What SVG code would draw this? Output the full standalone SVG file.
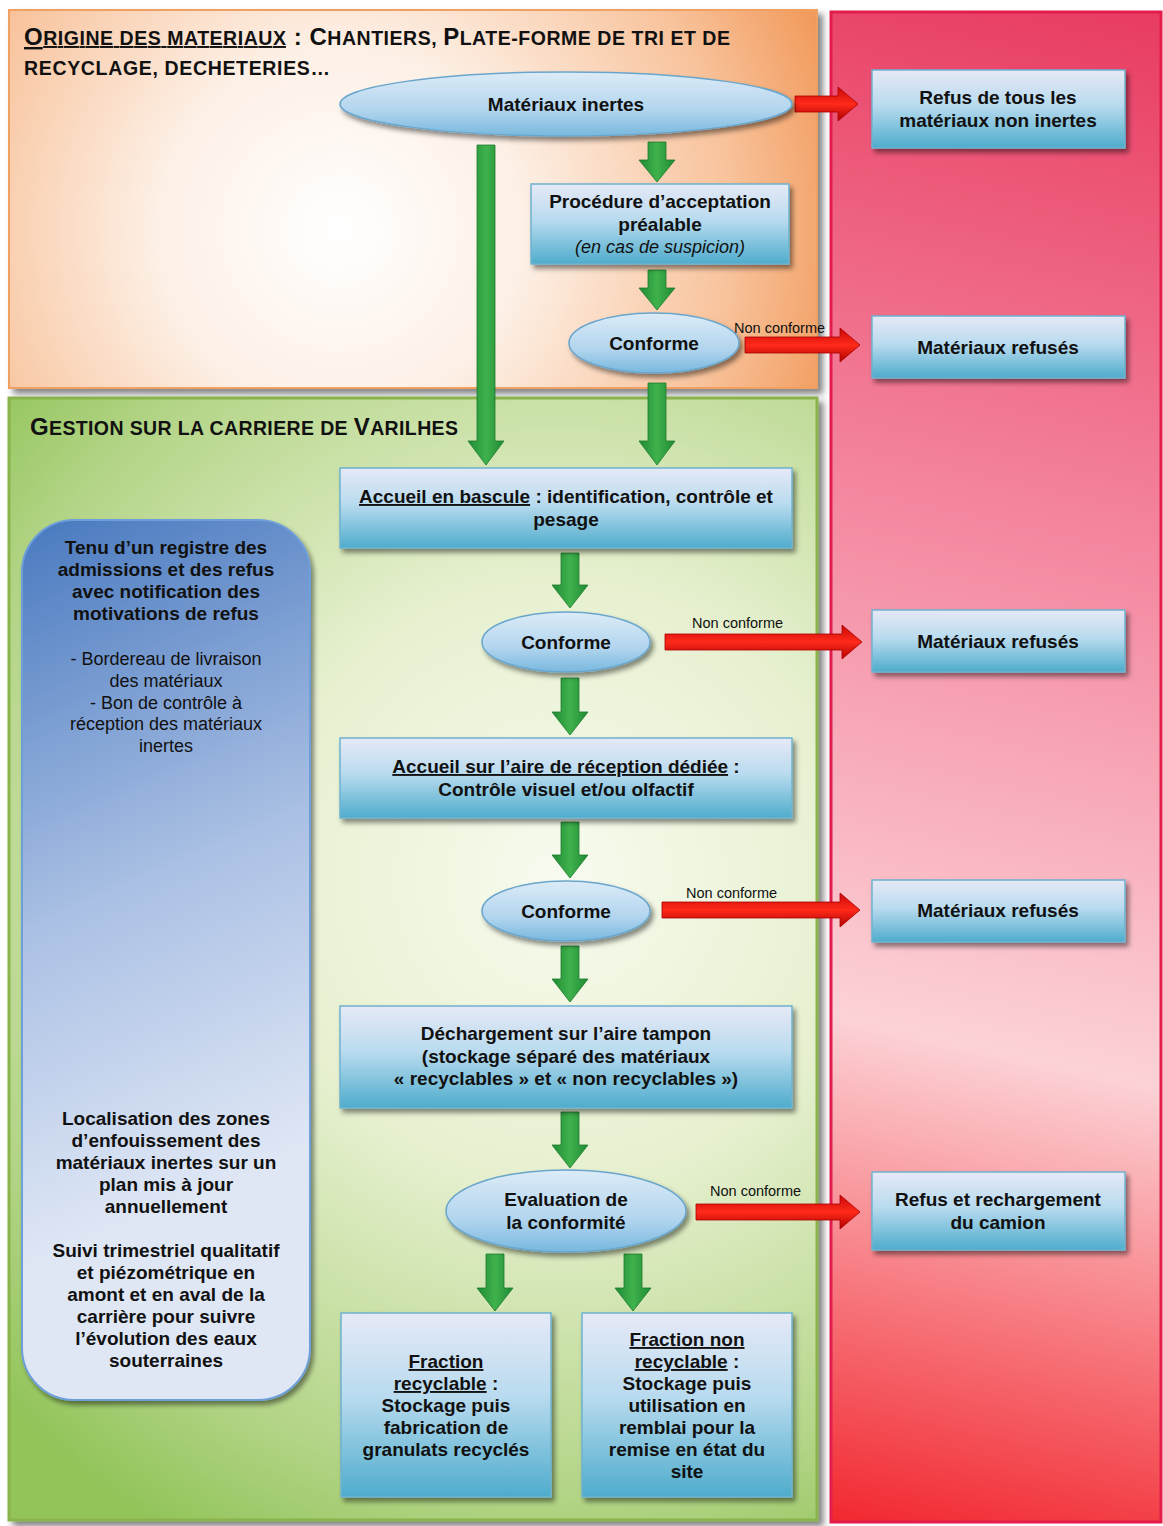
<svg xmlns="http://www.w3.org/2000/svg" width="1163" height="1526" viewBox="0 0 1163 1526">
<style>
text{font-family:"Liberation Sans",Arial,sans-serif;fill:#111;}
.b{font-weight:bold;font-size:19px;text-anchor:middle;}
.r{font-size:18px;text-anchor:middle;}
.nc{font-size:14.5px;}
.t{font-weight:bold;}
.big{font-size:24px;}
.sm{font-size:19.5px;}
.u{text-decoration:underline;}
.box{fill:url(#gBox);stroke:#6fb3cf;stroke-width:1.5;filter:url(#sh);}
.ell{fill:url(#gEll);stroke:#6aa6cc;stroke-width:1.5;filter:url(#sh);}
.ga{fill:url(#gGreen);stroke:#1c7a2c;stroke-width:0.8;}
.ra{fill:url(#gRed);stroke:#a00;stroke-width:0.8;}
</style>
<defs>
<filter id="sh" x="-10%" y="-10%" width="125%" height="130%"><feDropShadow dx="3" dy="4" stdDeviation="2.5" flood-color="#000" flood-opacity="0.45"/></filter>
<filter id="psh" x="-5%" y="-5%" width="110%" height="110%"><feDropShadow dx="5" dy="5" stdDeviation="3" flood-color="#333" flood-opacity="0.6"/></filter>
<linearGradient id="gBox" x1="0" y1="0" x2="0" y2="1"><stop offset="0" stop-color="#e6e9f6"/><stop offset="0.45" stop-color="#b9dbef"/><stop offset="1" stop-color="#4eaccc"/></linearGradient>
<linearGradient id="gEll" x1="0" y1="0" x2="0" y2="1"><stop offset="0" stop-color="#dcebf7"/><stop offset="0.6" stop-color="#b2d5ee"/><stop offset="1" stop-color="#78b8de"/></linearGradient>
<linearGradient id="gGreen" x1="0" y1="0" x2="1" y2="0"><stop offset="0" stop-color="#1f8a34"/><stop offset="0.5" stop-color="#3fb24c"/><stop offset="1" stop-color="#1f8a34"/></linearGradient>
<linearGradient id="gRed" x1="0" y1="0" x2="0" y2="1"><stop offset="0" stop-color="#c80808"/><stop offset="0.5" stop-color="#ff2a1a"/><stop offset="1" stop-color="#b00000"/></linearGradient>
<radialGradient id="gOrange" gradientUnits="userSpaceOnUse" cx="340" cy="230" r="520"><stop offset="0" stop-color="#ffffff"/><stop offset="0.35" stop-color="#fdf0e6"/><stop offset="0.75" stop-color="#f8c39c"/><stop offset="1" stop-color="#f29a5c"/></radialGradient>
<radialGradient id="gGreenP" gradientUnits="userSpaceOnUse" cx="560" cy="880" r="760"><stop offset="0" stop-color="#f8fbef"/><stop offset="0.4" stop-color="#e6f0cf"/><stop offset="0.8" stop-color="#b4d588"/><stop offset="1" stop-color="#92c45a"/></radialGradient>
<linearGradient id="gPink" gradientUnits="userSpaceOnUse" x1="1163" y1="0" x2="830" y2="1526"><stop offset="0" stop-color="#e83a60"/><stop offset="0.35" stop-color="#f4879f"/><stop offset="0.68" stop-color="#fcd2d6"/><stop offset="1" stop-color="#f2262e"/></linearGradient>
<linearGradient id="gBlue" gradientUnits="userSpaceOnUse" x1="22" y1="520" x2="300" y2="1150"><stop offset="0" stop-color="#4879bf"/><stop offset="0.55" stop-color="#aac0e4"/><stop offset="1" stop-color="#dfe7f5"/></linearGradient>
</defs>

<g id="panel-red"><rect x="831" y="12" width="330" height="1510" fill="url(#gPink)" stroke="#e31c4c" stroke-width="3"/></g>
<g id="panel-orange"><rect x="9" y="10" width="808" height="378" fill="url(#gOrange)" stroke="#f0a060" stroke-width="2" filter="url(#psh)"/>
<text x="24" y="45" class="t" textLength="706" lengthAdjust="spacing"><tspan class="big u">O</tspan><tspan class="sm u">RIGINE DES MATERIAUX</tspan><tspan class="big"> : C</tspan><tspan class="sm">HANTIERS, </tspan><tspan class="big">P</tspan><tspan class="sm">LATE-FORME DE TRI ET DE</tspan></text>
<text x="24" y="75" class="t sm" textLength="306" lengthAdjust="spacing">RECYCLAGE, DECHETERIES…</text>
</g>
<g id="panel-green"><rect x="9" y="398" width="808" height="1122" fill="url(#gGreenP)" stroke="#8ab34c" stroke-width="3" filter="url(#psh)"/>
<text x="30" y="435" class="t" textLength="428" lengthAdjust="spacing"><tspan class="big">G</tspan><tspan class="sm">ESTION SUR LA CARRIERE DE </tspan><tspan class="big">V</tspan><tspan class="sm">ARILHES</tspan></text>
</g>

<g id="note-left">
<rect x="22" y="520" width="288" height="880" rx="52" fill="url(#gBlue)" stroke="#6e9fd8" stroke-width="2" filter="url(#sh)"/>
<text class="b"><tspan x="166" y="554">Tenu d’un registre des</tspan><tspan x="166" y="576">admissions et des refus</tspan><tspan x="166" y="598">avec notification des</tspan><tspan x="166" y="620">motivations de refus</tspan></text>
<text class="r"><tspan x="166" y="665">- Bordereau de livraison</tspan><tspan x="166" y="687">des matériaux</tspan><tspan x="166" y="709">- Bon de contrôle à</tspan><tspan x="166" y="730">réception des matériaux</tspan><tspan x="166" y="752">inertes</tspan></text>
<text class="b"><tspan x="166" y="1125">Localisation des zones</tspan><tspan x="166" y="1147">d’enfouissement des</tspan><tspan x="166" y="1169">matériaux inertes sur un</tspan><tspan x="166" y="1191">plan mis à jour</tspan><tspan x="166" y="1213">annuellement</tspan></text>
<text class="b"><tspan x="166" y="1257">Suivi trimestriel qualitatif</tspan><tspan x="166" y="1279">et piézométrique en</tspan><tspan x="166" y="1301">amont et en aval de la</tspan><tspan x="166" y="1323">carrière pour suivre</tspan><tspan x="166" y="1345">l’évolution des eaux</tspan><tspan x="166" y="1367">souterraines</tspan></text>
</g>

<g id="connectors">
<path class="ga" d="M477,145 H495 V441 H504 L486,465 L468,441 H477 Z"/>
<path class="ga" d="M648,142 H666 V160 H675 L657,182 L639,160 H648 Z"/>
<path class="ga" d="M648,270 H666 V288 H675 L657,310 L639,288 H648 Z"/>
<path class="ga" d="M648,383 H666 V441 H675 L657,465 L639,441 H648 Z"/>
<path class="ga" d="M561,553 H579 V585 H588 L570,608 L552,585 H561 Z"/>
<path class="ga" d="M561,678 H579 V712 H588 L570,735 L552,712 H561 Z"/>
<path class="ga" d="M561,822 H579 V855 H588 L570,878 L552,855 H561 Z"/>
<path class="ga" d="M561,946 H579 V979 H588 L570,1002 L552,979 H561 Z"/>
<path class="ga" d="M561,1112 H579 V1145 H588 L570,1168 L552,1145 H561 Z"/>
<path class="ga" d="M486,1254 H504 V1288 H513 L495,1311 L477,1288 H486 Z"/>
<path class="ga" d="M624,1254 H642 V1288 H651 L633,1311 L615,1288 H624 Z"/>
<path class="ra" d="M795,96 V112 H838 V121 L858,104 L838,87 V96 Z"/>
<path class="ra" d="M745,337 V353 H840 V362 L860,345 L840,328 V337 Z"/>
<path class="ra" d="M665,634 V650 H842 V659 L862,642 L842,625 V634 Z"/>
<path class="ra" d="M662,902 V918 H840 V927 L860,910 L840,893 V902 Z"/>
<path class="ra" d="M696,1204 V1220 H840 V1229 L860,1212 L840,1195 V1204 Z"/>
<text x="734" y="333" class="nc">Non conforme</text>
<text x="692" y="628" class="nc">Non conforme</text>
<text x="686" y="898" class="nc">Non conforme</text>
<text x="710" y="1196" class="nc">Non conforme</text>
</g>

<g id="n-inertes"><ellipse cx="566" cy="104" rx="226" ry="32" class="ell"/><text x="566" y="111" class="b">Matériaux inertes</text></g>
<g id="n-refus-tous"><rect x="872" y="70" width="253" height="78" class="box"/><text class="b"><tspan x="998" y="104">Refus de tous les</tspan><tspan x="998" y="127">matériaux non inertes</tspan></text></g>
<g id="n-procedure"><rect x="531" y="184" width="258" height="80" class="box"/><text class="b"><tspan x="660" y="208">Procédure d’acceptation</tspan><tspan x="660" y="231">préalable</tspan></text><text x="660" y="253" class="r" font-style="italic">(en cas de suspicion)</text></g>
<g id="n-conforme1"><ellipse cx="654" cy="343" rx="85" ry="30" class="ell"/><text x="654" y="350" class="b">Conforme</text></g>
<g id="n-refuses1"><rect x="872" y="316" width="253" height="62" class="box"/><text x="998" y="354" class="b">Matériaux refusés</text></g>
<g id="n-bascule"><rect x="340" y="468" width="452" height="80" class="box"/><text class="b"><tspan x="566" y="503"><tspan class="u">Accueil en bascule</tspan> : identification, contrôle et</tspan><tspan x="566" y="526">pesage</tspan></text></g>
<g id="n-conforme2"><ellipse cx="566" cy="642" rx="84" ry="30" class="ell"/><text x="566" y="649" class="b">Conforme</text></g>
<g id="n-refuses2"><rect x="872" y="610" width="253" height="62" class="box"/><text x="998" y="648" class="b">Matériaux refusés</text></g>
<g id="n-aire"><rect x="340" y="738" width="452" height="80" class="box"/><text class="b"><tspan x="566" y="773"><tspan class="u">Accueil sur l’aire de réception dédiée</tspan> :</tspan><tspan x="566" y="796">Contrôle visuel et/ou olfactif</tspan></text></g>
<g id="n-conforme3"><ellipse cx="566" cy="911" rx="84" ry="30" class="ell"/><text x="566" y="918" class="b">Conforme</text></g>
<g id="n-refuses3"><rect x="872" y="880" width="253" height="62" class="box"/><text x="998" y="917" class="b">Matériaux refusés</text></g>
<g id="n-dechargement"><rect x="340" y="1006" width="452" height="102" class="box"/><text class="b"><tspan x="566" y="1040">Déchargement sur l’aire tampon</tspan><tspan x="566" y="1063">(stockage séparé des matériaux</tspan><tspan x="566" y="1085">« recyclables » et « non recyclables »)</tspan></text></g>
<g id="n-evaluation"><ellipse cx="566" cy="1211" rx="120" ry="41" class="ell"/><text class="b"><tspan x="566" y="1206">Evaluation de</tspan><tspan x="566" y="1229">la conformité</tspan></text></g>
<g id="n-rechargement"><rect x="872" y="1172" width="253" height="78" class="box"/><text class="b"><tspan x="998" y="1206">Refus et rechargement</tspan><tspan x="998" y="1229">du camion</tspan></text></g>
<g id="n-recyclable"><rect x="341" y="1313" width="210" height="184" class="box"/><text class="b"><tspan x="446" y="1368" class="u">Fraction</tspan><tspan x="446" y="1390"><tspan class="u">recyclable</tspan> :</tspan><tspan x="446" y="1412">Stockage puis</tspan><tspan x="446" y="1434">fabrication de</tspan><tspan x="446" y="1456">granulats recyclés</tspan></text></g>
<g id="n-nonrecyclable"><rect x="582" y="1313" width="210" height="184" class="box"/><text class="b"><tspan x="687" y="1346" class="u">Fraction non</tspan><tspan x="687" y="1368"><tspan class="u">recyclable</tspan> :</tspan><tspan x="687" y="1390">Stockage puis</tspan><tspan x="687" y="1412">utilisation en</tspan><tspan x="687" y="1434">remblai pour la</tspan><tspan x="687" y="1456">remise en état du</tspan><tspan x="687" y="1478">site</tspan></text></g>
</svg>
